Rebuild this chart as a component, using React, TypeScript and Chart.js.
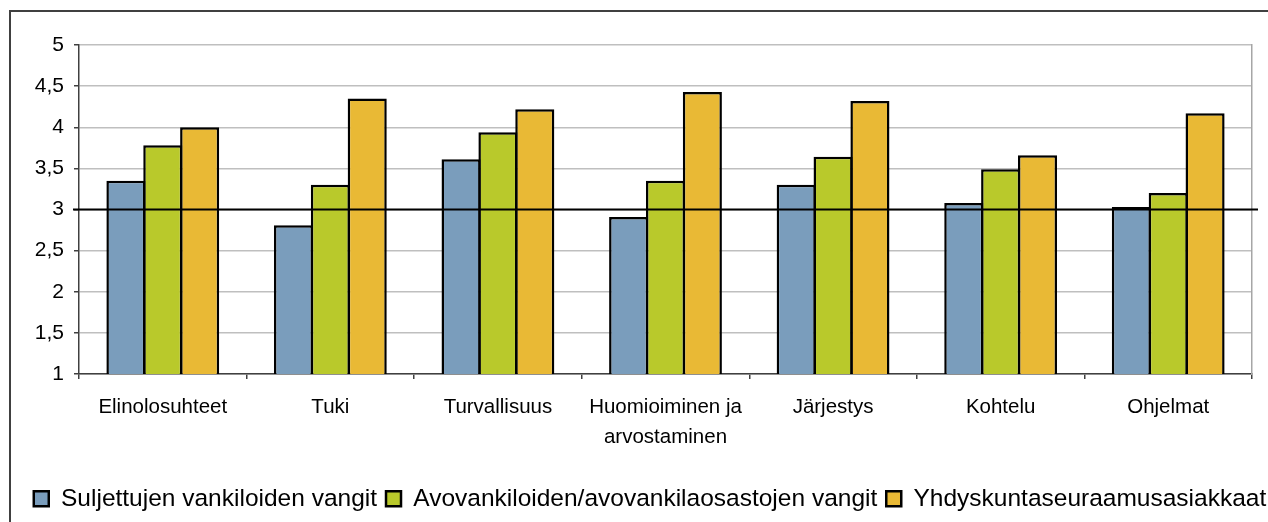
import React, { useEffect, useRef } from "react";
import { Chart, registerables } from "chart.js";

Chart.register(...registerables);

const CATEGORIES: (string | string[])[] = [
  "Elinolosuhteet",
  "Tuki",
  "Turvallisuus",
  ["Huomioiminen ja", "arvostaminen"],
  "Järjestys",
  "Kohtelu",
  "Ohjelmat",
];

const SERIES_NAMES = [
  "Suljettujen vankiloiden vangit",
  "Avovankiloiden/avovankilaosastojen vangit",
  "Yhdyskuntaseuraamusasiakkaat",
];

const SULJETUT = [3.35, 2.81, 3.61, 2.91, 3.3, 3.08, 3.03];
const AVO = [3.78, 3.3, 3.94, 3.35, 3.64, 3.49, 3.2];
const YHDYS = [4.0, 4.35, 4.22, 4.43, 4.32, 3.66, 4.17];

const SERIES_COLORS = ["#7A9DBC", "#B9C92B", "#E9B935"];

const REFERENCE_VALUE = 3;
const Y_MIN = 1;
const Y_MAX = 5;
const Y_STEP = 0.5;

const FONT = '"Liberation Sans", Arial, sans-serif';

const refLinePlugin = {
  id: "refLine",
  afterDatasetsDraw(chart: any) {
    const { ctx, chartArea, scales } = chart;
    const y = scales.y.getPixelForValue(REFERENCE_VALUE);
    ctx.save();
    ctx.strokeStyle = "#000";
    ctx.lineWidth = 2;
    ctx.beginPath();
    ctx.moveTo(chartArea.left - 6, y);
    ctx.lineTo(chartArea.right + 6, y);
    ctx.stroke();
    ctx.restore();
  },
};

export default function App() {
  const canvasRef = useRef<HTMLCanvasElement | null>(null);

  useEffect(() => {
    const canvas = canvasRef.current;
    if (!canvas) return;
    const seriesValues = [SULJETUT, AVO, YHDYS];
    const chart = new Chart(canvas, {
      type: "bar",
      data: {
        labels: CATEGORIES as any,
        datasets: SERIES_NAMES.map((name, i) => ({
          label: name,
          data: seriesValues[i],
          backgroundColor: SERIES_COLORS[i],
          borderColor: "#000",
          borderWidth: 2.5,
          borderSkipped: false,
          categoryPercentage: 0.66,
          barPercentage: 1.06,
          yAxisID: "y",
        })),
      },
      options: {
        responsive: false,
        maintainAspectRatio: false,
        animation: false,
        layout: { padding: { left: 0, right: 0, top: 45, bottom: 1 } },
        plugins: {
          legend: {
            position: "bottom",
            labels: {
              font: { family: FONT, size: 24.5 },
              color: "#000",
              boxWidth: 15,
              boxHeight: 15,
              padding: 9,
            },
          },
          tooltip: { enabled: false },
        },
        scales: {
          x: {
            offset: true,
            grid: {
              offset: true,
              drawOnChartArea: false,
              color: "#404040",
              tickColor: "#404040",
              tickLength: 5,
              lineWidth: 1.5,
            },
            border: { color: "#404040", width: 1.5 },
            ticks: {
              font: { family: FONT, size: 20.5, lineHeight: 1.463 },
              color: "#000",
              padding: 13,
              maxRotation: 0,
              minRotation: 0,
              autoSkip: false,
            },
            afterFit: (s: any) => {
              s.height = 103.5;
            },
          },
          y: {
            min: Y_MIN,
            max: Y_MAX,
            ticks: {
              stepSize: Y_STEP,
              font: { family: FONT, size: 21 },
              color: "#000",
              padding: 10,
              callback: (v: any) => String(v).replace(".", ","),
            },
            grid: {
              color: "#BFBFBF",
              tickColor: "#404040",
              tickLength: 5,
              lineWidth: 1.5,
            },
            border: { color: "#404040", width: 1.5 },
            afterFit: (s: any) => {
              s.width = 79;
            },
          },
          yRight: {
            position: "right",
            display: true,
            grid: { display: false },
            ticks: { display: false },
            border: { display: true, color: "#A6A6A6", width: 1.5 },
            afterFit: (s: any) => {
              s.width = 48;
            },
          },
        },
      },
      plugins: [refLinePlugin],
    });
    return () => chart.destroy();
  }, []);

  return (
    <div
      style={{
        position: "fixed",
        left: 0,
        top: 0,
        width: 1268,
        height: 522,
        overflow: "hidden",
        background: "#fff",
      }}
    >
      <div
        style={{
          position: "absolute",
          left: 9,
          top: 10,
          width: 1400,
          height: 600,
          border: "2px solid #404040",
          boxSizing: "border-box",
        }}
      />
      <canvas
        ref={canvasRef}
        width={1300}
        height={522}
        style={{ position: "absolute", left: 0, top: 0, width: 1300, height: 522 }}
      />
    </div>
  );
}
